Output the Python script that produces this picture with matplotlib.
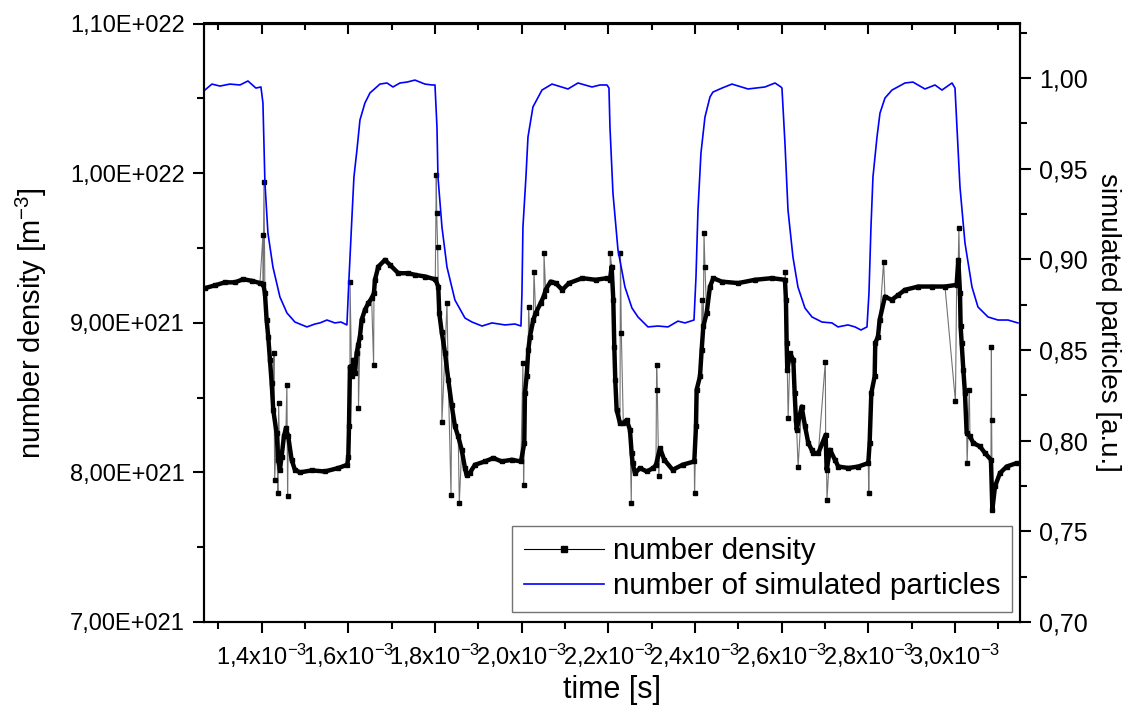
import numpy as np
import matplotlib
matplotlib.use('Agg')
import matplotlib.pyplot as plt
from matplotlib.lines import Line2D
from matplotlib.ticker import MultipleLocator

plt.rcParams['font.family'] = ['Liberation Sans', 'DejaVu Sans']
plt.rcParams['mathtext.default'] = 'regular'

# number of simulated particles (right axis), time in ms
blue_time = [1.2691, 1.2853, 1.3038, 1.3268, 1.3500, 1.3684, 1.3868, 1.3984,
             1.4030, 1.4076, 1.4145, 1.4261, 1.4422, 1.4584, 1.4768, 1.5045,
             1.5230, 1.5345, 1.5507, 1.5691, 1.5830, 1.5968,
             1.6014, 1.6084, 1.6130, 1.6199, 1.6269, 1.6384, 1.6500,
             1.6730, 1.6892, 1.7030, 1.7192, 1.7354,
             1.7538, 1.7769, 1.7931, 1.8000,
             1.8046, 1.8069, 1.8161, 1.8277, 1.8461, 1.8692, 1.8854, 1.9085,
             1.9315, 1.9615, 1.9846, 1.9984,
             2.0007, 2.0030, 2.0099, 2.0146, 2.0261, 2.0469, 2.0700, 2.1069,
             2.1300, 2.1623, 2.1808, 2.1969,
             2.2015, 2.2038, 2.2107, 2.2223, 2.2384, 2.2546, 2.2684, 2.2915,
             2.3146, 2.3377, 2.3607, 2.3769, 2.3977,
             2.4023, 2.4069, 2.4138, 2.4230, 2.4346, 2.4415, 2.4623, 2.4853,
             2.5223, 2.5615, 2.5846, 2.5984,
             2.6007, 2.6076, 2.6146, 2.6261, 2.6376, 2.6538, 2.6700, 2.6930,
             2.7161, 2.7300, 2.7530, 2.7692, 2.7830, 2.7969,
             2.8015, 2.8061, 2.8107, 2.8200, 2.8269, 2.8384, 2.8546, 2.8846,
             2.9030, 2.9307, 2.9538, 2.9699, 2.9930, 3.0000,
             3.0045, 3.0115, 3.0230, 3.0392, 3.0530, 3.0761, 3.0992, 3.1222, 3.1453]
blue_value = [0.9933, 0.9966, 0.9955, 0.9966, 0.9961, 0.9983, 0.9944, 0.9950,
              0.9862, 0.9421, 0.9145, 0.8957, 0.8792, 0.8704, 0.8654, 0.8627,
              0.8643, 0.8649, 0.8665, 0.8649, 0.8654, 0.8638,
              0.8886, 0.9233, 0.9454, 0.9602, 0.9768, 0.9862, 0.9917,
              0.9966, 0.9972, 0.9950, 0.9972, 0.9977,
              0.9988, 0.9966, 0.9961, 0.9961,
              0.9729, 0.9454, 0.9178, 0.8957, 0.8775, 0.8676, 0.8654, 0.8632,
              0.8649, 0.8638, 0.8643, 0.8632,
              0.8814, 0.9178, 0.9454, 0.9674, 0.9840, 0.9933, 0.9966, 0.9939,
              0.9972, 0.9950, 0.9961, 0.9961,
              0.9944, 0.9729, 0.9365, 0.9051, 0.8847, 0.8731, 0.8682, 0.8627,
              0.8632, 0.8627, 0.8659, 0.8649, 0.8665,
              0.8902, 0.9272, 0.9586, 0.9784, 0.9895, 0.9922, 0.9944, 0.9966,
              0.9939, 0.9950, 0.9972, 0.9950,
              0.9944, 0.9641, 0.9272, 0.9012, 0.8847, 0.8731, 0.8682, 0.8654,
              0.8649, 0.8627, 0.8638, 0.8627, 0.8610, 0.8627,
              0.8814, 0.9178, 0.9454, 0.9674, 0.9806, 0.9889, 0.9933, 0.9972,
              0.9977, 0.9939, 0.9961, 0.9933, 0.9972, 0.9944,
              0.9729, 0.9398, 0.9090, 0.8847, 0.8737, 0.8682, 0.8665, 0.8665, 0.8649]

# number density, main trace (time in ms, density in 1e21 m^-3)
dens_time = [1.2691, 1.2922, 1.3153, 1.3384, 1.3575, 1.3776, 1.3961, 1.4037,
             1.4076, 1.4115, 1.4152, 1.4192, 1.4231, 1.4268, 1.4345, 1.4383,
             1.4422, 1.4461, 1.4514, 1.4561, 1.4614, 1.4692, 1.4768, 1.4884,
             1.5153, 1.5461, 1.5769, 1.5977,
             1.6000, 1.6016, 1.6038, 1.6076, 1.6115, 1.6154, 1.6192, 1.6230,
             1.6269, 1.6307, 1.6384, 1.6461, 1.6538, 1.6592, 1.6615, 1.6692,
             1.6846, 1.6961, 1.7154, 1.7384,
             1.7538, 1.7769, 1.8007, 1.8076, 1.8099, 1.8154, 1.8231, 1.8307,
             1.8385, 1.8461, 1.8537, 1.8616, 1.8692, 1.8731, 1.8800, 1.8923,
             1.9153, 1.9346, 1.9538, 1.9769, 1.9984,
             2.0061, 2.0076, 2.0115, 2.0154, 2.0192, 2.0269, 2.0323, 2.0438,
             2.0515, 2.0553, 2.0669, 2.0784, 2.0938, 2.1092, 2.1400, 2.1707, 2.1969,
             2.2038, 2.2076, 2.2115, 2.2138, 2.2160, 2.2192, 2.2269, 2.2346,
             2.2423, 2.2499, 2.2538, 2.2561, 2.2615, 2.2730, 2.2884, 2.3038,
             2.3100, 2.3192, 2.3292, 2.3484, 2.3715, 2.3984,
             2.4023, 2.4038, 2.4115, 2.4154, 2.4192, 2.4269, 2.4346, 2.4423,
             2.4615, 2.4999, 2.5384, 2.5769, 2.6076,
             2.6099, 2.6115, 2.6130, 2.6192, 2.6269, 2.6300, 2.6330, 2.6346,
             2.6461, 2.6538, 2.6615, 2.6692, 2.6730, 2.6846, 2.7015, 2.7038,
             2.7115, 2.7230, 2.7307, 2.7538, 2.7769, 2.7999,
             2.8030, 2.8069, 2.8146, 2.8160, 2.8223, 2.8261, 2.8384, 2.8538,
             2.8692, 2.8846, 2.9153, 2.9461, 2.9769, 3.0038,
             3.0076, 3.0115, 3.0130, 3.0153, 3.0192, 3.0230, 3.0269, 3.0346,
             3.0423, 3.0577, 3.0692, 3.0830, 3.0862, 3.0923, 3.1038, 3.1192, 3.1423]
dens_value = [9.231, 9.250, 9.270, 9.270, 9.291, 9.280, 9.265, 9.260,
              9.198, 9.019, 8.908, 8.752, 8.600, 8.418, 8.262, 8.084,
              8.017, 8.106, 8.240, 8.296, 8.240, 8.084, 8.017, 8.000,
              8.013, 8.006, 8.029, 8.051,
              8.106, 8.307, 8.707, 8.641, 8.752, 8.663, 8.797, 8.850,
              8.908, 9.019, 9.086, 9.131, 9.164, 9.198, 9.287, 9.375,
              9.420, 9.387, 9.331, 9.331,
              9.320, 9.309, 9.290, 9.242, 9.064, 8.941, 8.800, 8.620,
              8.450, 8.307, 8.240, 8.151, 8.029, 7.980, 7.995, 8.051,
              8.073, 8.096, 8.073, 8.084, 8.073,
              8.196, 8.530, 8.641, 8.819, 8.908, 9.019, 9.064, 9.131,
              9.180, 9.220, 9.275, 9.265, 9.220, 9.265, 9.298, 9.287, 9.298,
              9.287, 9.375, 9.153, 8.841, 8.619, 8.418, 8.329, 8.330,
              8.350, 8.285, 8.129, 8.062, 7.995, 8.029, 8.006, 8.029,
              8.050, 8.162, 8.084, 8.017, 8.051, 8.073,
              8.307, 8.552, 8.641, 8.819, 8.975, 9.064, 9.242, 9.298,
              9.275, 9.265, 9.287, 9.298, 9.287,
              9.153, 8.864, 8.686, 8.797, 8.752, 8.530, 8.351, 8.285,
              8.440, 8.310, 8.196, 8.151, 8.129, 8.129, 8.251, 8.017,
              8.151, 8.084, 8.039, 8.029, 8.039, 8.062,
              8.196, 8.530, 8.641, 8.864, 8.908, 9.019, 9.175, 9.153,
              9.186, 9.220, 9.242, 9.242, 9.242, 9.253,
              9.420, 9.198, 8.975, 8.864, 8.686, 8.530, 8.263, 8.240,
              8.196, 8.173, 8.129, 8.084, 7.750, 7.906, 7.995, 8.039, 8.062]

# number density, single outlying samples
spike_time = [1.4030, 1.4053, 1.4284, 1.4300, 1.4376, 1.4392, 1.4583, 1.4599,
              1.6040, 1.6235, 1.6584,
              1.8030, 1.8040, 1.8061, 1.8160, 1.8277, 1.8370, 1.8561,
              2.0030, 2.0045, 2.0160, 2.0285, 2.0515,
              2.2045, 2.2280, 2.2300, 2.2530, 2.3115, 2.3130, 2.3165,
              2.3990, 2.4160, 2.4208, 2.4230,
              2.6086, 2.6150, 2.6380, 2.7008, 2.7045,
              2.8010, 2.8353,
              3.0010, 3.0090, 3.0280, 3.0330, 3.0840, 3.0845]
spike_value = [9.587, 9.943, 8.797, 7.950, 7.862, 8.463, 8.585, 7.839,
               9.275, 8.430, 8.719,
               9.988, 9.732, 9.509, 8.340, 9.131, 7.850, 7.795,
               8.730, 7.917, 9.108, 9.342, 9.465,
               9.465, 9.465, 8.930, 7.795, 8.719, 8.552, 7.973,
               7.862, 9.153, 9.599, 9.375,
               9.342, 8.363, 8.039, 8.741, 7.817,
               7.862, 9.409,
               8.474, 9.632, 8.062, 8.552, 8.841, 8.351]

x_ticks_ms = [1.4, 1.6, 1.8, 2.0, 2.2, 2.4, 2.6, 2.8, 3.0]
y_left_ticks = [7e21, 8e21, 9e21, 1e22, 1.1e22]
y_left_labels = ['7,00E+021', '8,00E+021', '9,00E+021', '1,00E+022', '1,10E+022']
y_right_ticks = [0.70, 0.75, 0.80, 0.85, 0.90, 0.95, 1.00]

fig = plt.figure(figsize=(11.34, 7.21), dpi=100)
ax = fig.add_axes([204 / 1134, 99 / 721, 816 / 1134, 598.5 / 721])
ax2 = ax.twinx()

bt = np.array(dens_time) * 1e-3
bv = np.array(dens_value) * 1e21
all_t = np.concatenate([dens_time, spike_time])
all_v = np.concatenate([dens_value, spike_value])
order = np.argsort(all_t, kind='stable')
ax.plot(all_t[order] * 1e-3, all_v[order] * 1e21, color='0.45', lw=0.8,
        marker='s', ms=3.2, mfc='black', mec='black', zorder=2)
ax.plot(bt, bv, color='black', lw=3.2, solid_capstyle='butt', zorder=3)

ax2.plot(np.array(blue_time) * 1e-3, blue_value, color='#0000ff', lw=1.2)

ax.set_xlim(1.267e-3, 3.150e-3)
ax.set_ylim(7e21, 1.1e22)
ax2.set_ylim(0.70, 1.03)

xt = [v * 1e-3 for v in x_ticks_ms]
ax.set_xticks(xt)
ax.set_xticklabels([('%.1f' % v).replace('.', ',') + 'x10$^{-3}$' for v in x_ticks_ms])
ax.xaxis.set_minor_locator(MultipleLocator(1e-4))
ax.set_yticks(y_left_ticks)
ax.set_yticklabels(y_left_labels)
ax.yaxis.set_minor_locator(MultipleLocator(5e20))
ax2.set_yticks(y_right_ticks)
ax2.set_yticklabels([('%.2f' % v).replace('.', ',') for v in y_right_ticks])
ax2.yaxis.set_minor_locator(MultipleLocator(0.025))

for a in (ax, ax2):
    for s in a.spines.values():
        s.set_linewidth(1.5)
    a.tick_params(which='major', direction='out', length=8, width=1.5, labelsize=17, pad=6)
    a.tick_params(which='minor', direction='out', length=5, width=1.5)
ax2.tick_params(labelsize=18)

top = ax.secondary_xaxis('top')
top.set_xticks(xt)
top.xaxis.set_minor_locator(MultipleLocator(1e-4))
top.tick_params(which='major', direction='in', length=8, width=1.5, labeltop=False)
top.tick_params(which='minor', direction='in', length=5, width=1.5)
top.spines['top'].set_linewidth(1.5)

ax.set_xlabel('time [s]', fontsize=22)
ax.xaxis.set_label_coords(0.5, -0.088)
ax.set_ylabel('number density [m$^{-3}$]', fontsize=21)
ax.yaxis.set_label_coords(-0.19, 0.5)
ax2.set_ylabel('simulated particles [a.u.]', fontsize=20, rotation=270, va='bottom')
ax2.yaxis.set_label_coords(1.092, 0.5)

handles = [Line2D([], [], color='black', lw=0.8, marker='s', ms=4),
           Line2D([], [], color='#0000ff', lw=1.2)]
leg = ax2.legend(handles, ['number density', 'number of simulated particles'],
                 loc='lower right', bbox_to_anchor=(0.990, 0.017), fontsize=21.3,
                 fancybox=False, edgecolor='0.45', framealpha=1, borderpad=0.4,
                 handlelength=2.7, handletextpad=0.3, labelspacing=0.22,
                 borderaxespad=0)
leg.get_frame().set_linewidth(1.0)

fig.savefig('out.png', dpi=100)
